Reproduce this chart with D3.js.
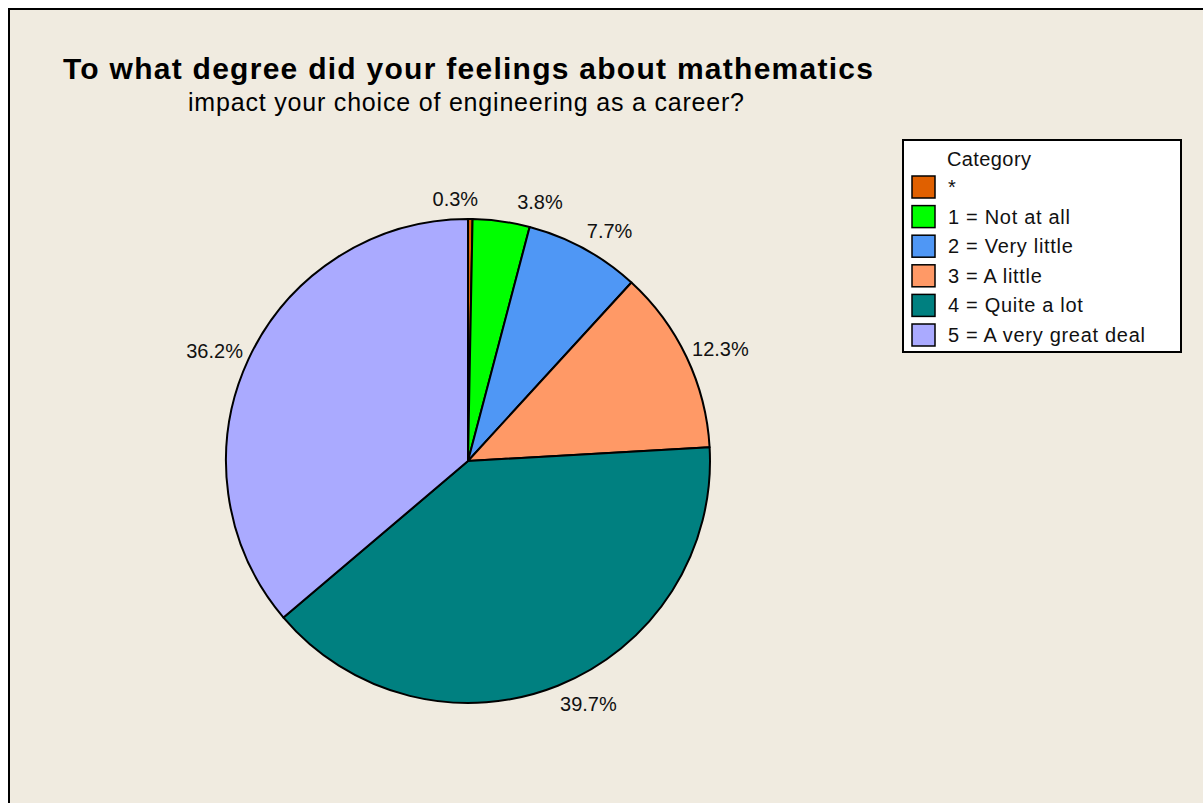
<!DOCTYPE html>
<html><head><meta charset="utf-8">
<script src="https://cdn.jsdelivr.net/npm/d3@7"></script>
<style>html,body{margin:0;padding:0;background:#fff;}svg{display:block;}</style>
</head><body>
<svg id="chart" width="1203" height="803"></svg>
<script>
const categories = ["*", "1 = Not at all", "2 = Very little", "3 = A little", "4 = Quite a lot", "5 = A very great deal"];
const percents = [0.3, 3.8, 7.7, 12.3, 39.7, 36.2];
const colors = ["#e06000", "#00ff00", "#4f97f5", "#ff9966", "#008080", "#aaaaff"];
const titleText = "To what degree did your feelings about mathematics";
const subtitleText = "impact your choice of engineering as a career?";
const legendTitle = "Category";

const svg = d3.select("#chart");
const W = 1203, H = 803;
const font = "'Liberation Sans', Arial, sans-serif";

svg.append("rect").attr("x", 9).attr("y", 9).attr("width", W).attr("height", H)
  .attr("fill", "#f0ebe0").attr("stroke", "#000").attr("stroke-width", 2);

svg.append("text").attr("x", 63).attr("y", 79).attr("font-family", font)
  .attr("font-weight", "bold").attr("font-size", 30).attr("fill", "#000")
  .attr("textLength", 810).attr("lengthAdjust", "spacing").text(titleText);
svg.append("text").attr("x", 188).attr("y", 111).attr("font-family", font)
  .attr("font-size", 25).attr("fill", "#000")
  .attr("textLength", 556).attr("lengthAdjust", "spacing").text(subtitleText);

const cx = 468, cy = 461, r = 242;
const data = categories.map((c, i) => ({cat: c, value: percents[i], color: colors[i]}));
const pie = d3.pie().value(d => d.value).sort(null);
const arcs = pie(data);
const arc = d3.arc().innerRadius(0).outerRadius(r);
const g = svg.append("g").attr("transform", `translate(${cx},${cy})`);
g.selectAll("path.slice").data(arcs).join("path").attr("class", "slice")
  .attr("d", arc).attr("fill", d => d.data.color)
  .attr("stroke", "#000").attr("stroke-width", 2).attr("stroke-linejoin", "round");

// labels: placed on an ellipse around the pie, then spread apart if crowded
const labelRx = 248, labelRy = 262, minGap = 39;
const labels = g.selectAll("text.lbl").data(arcs).join("text").attr("class", "lbl")
  .attr("font-family", font).attr("font-size", 20).attr("fill", "#111")
  .text(d => d.data.value.toFixed(1) + "%");
const boxes = [];
labels.each(function(d) {
  const a = (d.startAngle + d.endAngle) / 2;
  const s = Math.sin(a), c = Math.cos(a);
  const w = this.getComputedTextLength();
  const px = labelRx * s, py = -labelRy * c;
  let left = s > 0.05 ? px : (s < -0.05 ? px - w : px - w / 2);
  boxes.push({el: this, left, w, y: py});
});
for (let i = 0; i < boxes.length - 1; i++) {
  const b1 = boxes[i], b2 = boxes[i + 1];
  if (Math.abs(b1.y - b2.y) < 20) {
    const gap = b2.left - (b1.left + b1.w);
    if (gap < minGap) {
      const push = (minGap - gap) / 2;
      b1.left -= push; b2.left += push;
    }
  }
}
boxes.forEach(b => d3.select(b.el).attr("x", b.left).attr("y", b.y + 7));

// legend
const lg = svg.append("g").attr("transform", "translate(903,140)");
lg.append("rect").attr("width", 278).attr("height", 212).attr("fill", "#fff")
  .attr("stroke", "#000").attr("stroke-width", 2);
lg.append("text").attr("x", 44).attr("y", 26).attr("font-family", font)
  .attr("font-size", 20).attr("letter-spacing", 0.4).attr("fill", "#111").text(legendTitle);
const rowY = d3.scalePoint().domain(categories).range([47, 195]);
const rows = lg.selectAll("g.row").data(data).join("g").attr("class", "row")
  .attr("transform", d => `translate(0,${rowY(d.cat)})`);
rows.append("rect").attr("x", 9).attr("y", -11).attr("width", 23).attr("height", 22)
  .attr("fill", d => d.color).attr("stroke", "#000").attr("stroke-width", 1.5);
rows.append("text").attr("x", 45).attr("y", 7).attr("font-family", font)
  .attr("font-size", 20).attr("letter-spacing", 0.7).attr("fill", "#111").text(d => d.cat);
</script>
</body></html>
